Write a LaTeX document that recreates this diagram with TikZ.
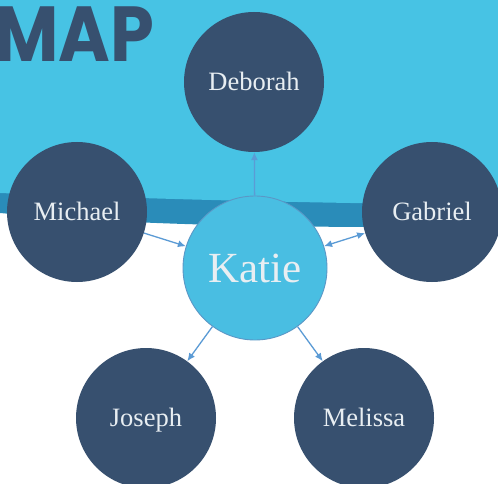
\documentclass[tikz,border=0pt]{standalone}
\usepackage{fontspec}
\setmainfont{Liberation Serif}
\newfontfamily\mapfont{Poppins}
\usetikzlibrary{arrows.meta}
\definecolor{bgblue}{HTML}{47C3E4}
\definecolor{bandblue}{HTML}{2A8CB9}
\definecolor{navy}{HTML}{37506F}
\definecolor{katieblue}{HTML}{49BEE2}
\definecolor{katieedge}{HTML}{5A97C6}
\definecolor{linkblue}{HTML}{5B9BD5}
\definecolor{nametext}{HTML}{E8EEF2}
\tikzset{
  person/.style={circle, fill=navy, minimum size=140bp, inner sep=0pt, text=nametext,
    font=\fontsize{26.5bp}{30bp}\selectfont, text height=17.5bp, text depth=0pt},
  hub/.style={circle, fill=katieblue, draw=katieedge, line width=0.9bp, minimum size=144bp, inner sep=0pt,
    text=nametext, font=\fontsize{43bp}{48bp}\selectfont, text height=28.5bp, text depth=0pt},
  link/.style={draw=linkblue, line width=1.3bp, -{Latex[length=8bp,width=7bp]}},
  duallink/.style={draw=linkblue, line width=1.3bp, {Latex[length=8bp,width=7bp]}-{Latex[length=8bp,width=7bp]}},
  maptitle/.style={anchor=base west, inner sep=0pt, text=navy, xscale=0.9, font=\mapfont\bfseries\fontsize{78bp}{80bp}\selectfont}
}
\begin{document}
\begin{tikzpicture}[x=1bp,y=-1bp]
\useasboundingbox (0,0) rectangle (498,484);
\begin{scope}
\clip (0,0) rectangle (498,484);
\fill[white] (0,0) rectangle (498,484);
\fill[bandblue] (0,0) -- (498,0) -- (498,227) .. controls (250,228) and (120,224) .. (0,213) -- cycle;
\fill[bgblue] (0,0) -- (498,0) -- (498,205) .. controls (300,203) and (150,199) .. (0,193) -- cycle;
\node[maptitle] (map) at (-6,62) {MAP};
\node[person] (deb) at (254,82) {Deborah};
\node[person] (mic) at (77,212) {Michael};
\node[person] (gab) at (432,212) {Gabriel};
\node[person] (jos) at (146,418) {Joseph};
\node[person] (mel) at (364,418) {Melissa};
\node[hub] (kat) at (255,268) {Katie};
\draw[link] (kat) -- (deb);
\draw[link] (mic) -- (kat);
\draw[duallink] (kat) -- (gab);
\draw[link] (kat) -- (jos);
\draw[link] (kat) -- (mel);
\end{scope}
\end{tikzpicture}
\end{document}
